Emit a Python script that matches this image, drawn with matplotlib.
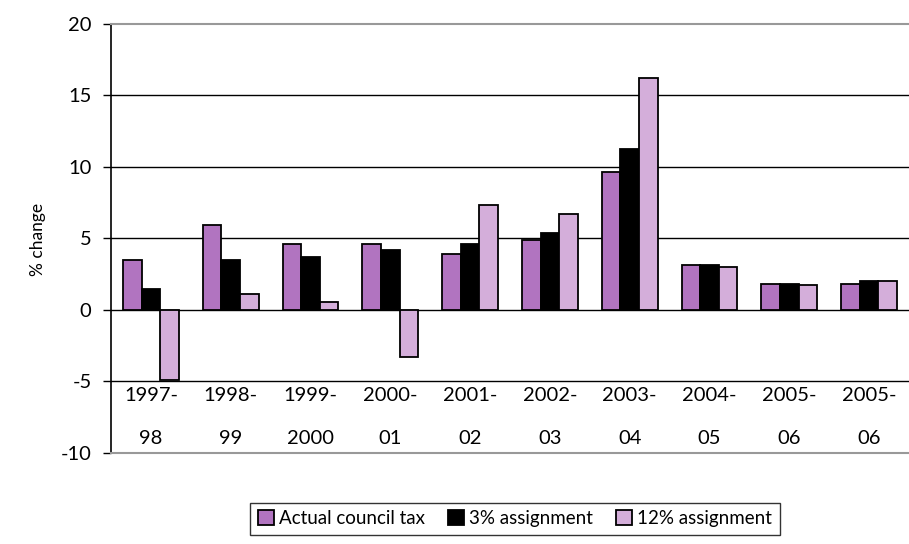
import matplotlib.pyplot as plt
import numpy as np

plt.rcParams['font.family'] = ['Lato', 'DejaVu Sans']

years_top = ['1997-', '1998-', '1999-', '2000-', '2001-', '2002-', '2003-', '2004-', '2005-', '2005-']
years_bottom = ['98', '99', '2000', '01', '02', '03', '04', '05', '06', '06']

actual = [3.5, 5.9, 4.6, 4.6, 3.9, 4.9, 9.6, 3.1, 1.8, 1.8]
assign3 = [1.45, 3.5, 3.7, 4.2, 4.6, 5.35, 11.2, 3.1, 1.8, 2.0]
assign12 = [-4.9, 1.1, 0.55, -3.3, 7.3, 6.7, 16.2, 3.0, 1.7, 2.0]

series = [('Actual council tax', actual, '#B174C0'),
          ('3% assignment', assign3, '#000000'),
          ('12% assignment', assign12, '#D4AEDA')]

fig = plt.figure(figsize=(9.09, 5.44), dpi=100)
ax = fig.add_axes([0.1221, 0.1673, 0.8779, 0.7895])

x = np.arange(len(actual))
w = 0.233
for i, (name, vals, col) in enumerate(series):
    ax.bar(x + (i - 1) * w, vals, w, color=col, edgecolor='black', linewidth=1.3,
           label=name, zorder=3)

ax.set_xlim(-0.5, 9.5)
ax.set_ylim(-10, 20)
ax.set_yticks([-10, -5, 0, 5, 10, 15, 20])
ax.set_yticklabels(['-10', '-5', '0', '5', '10', '15', '20'])
ax.tick_params(axis='y', length=6, width=1, labelsize=14.5, pad=8)
ax.set_xticks([])

# gridlines: black inside, grey at the edges
for yv in [-5, 0, 5, 10, 15]:
    ax.axhline(yv, color='black', linewidth=1, zorder=1)

ax.spines['right'].set_visible(False)
ax.spines['top'].set_color('#999999')
ax.spines['bottom'].set_color('#999999')
ax.spines['top'].set_linewidth(1.5)
ax.spines['bottom'].set_linewidth(1.5)
ax.spines['left'].set_linewidth(1.2)

# category labels sit inside the plot, below the -5 line
for xi, t, b in zip(x, years_top, years_bottom):
    ax.text(xi, -6.0, t, ha='center', va='center', fontsize=14.5)
    ax.text(xi, -9.0, b, ha='center', va='center', fontsize=14.5)

fig.text(0.042, 0.56, '% change', rotation=90, ha='center', va='center', fontsize=12.5)

leg = fig.legend(loc='upper center', bbox_to_anchor=(0.5666, 0.076), ncol=3,
                 fontsize=13.5, frameon=True, fancybox=False, edgecolor='black',
                 handlelength=0.85, handleheight=0.85, handletextpad=0.3,
                 columnspacing=1.2, borderpad=0.4, borderaxespad=0)
leg.get_frame().set_linewidth(1)

fig.savefig('out.png', dpi=100)
